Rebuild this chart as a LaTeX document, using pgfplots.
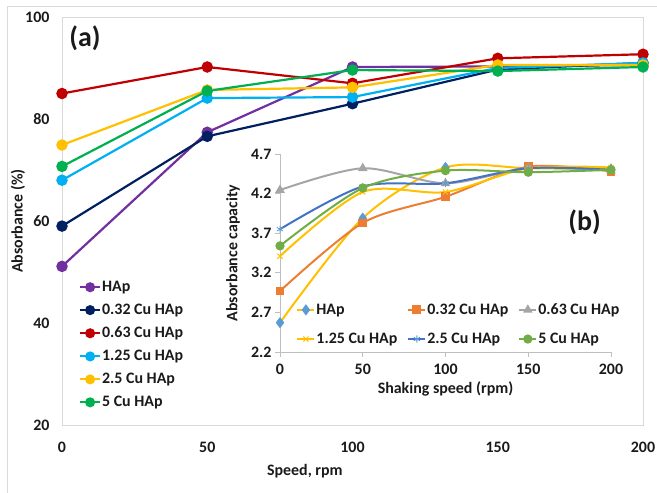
\documentclass[border=0pt]{standalone}
\usepackage{fontspec}
\setmainfont{Carlito}
\usepackage{pgfplots}
\pgfplotsset{compat=1.18}

% series colours of panel (a)
\definecolor{cHAp}{HTML}{7030A0}
\definecolor{cA}{HTML}{002060}
\definecolor{cB}{HTML}{C00000}
\definecolor{cC}{HTML}{00B0F0}
\definecolor{cD}{HTML}{FFC000}
\definecolor{cE}{HTML}{00B050}
% series colours of panel (b)
\definecolor{bBlueL}{HTML}{5B9BD5}
\definecolor{bOrange}{HTML}{ED7D31}
\definecolor{bGray}{HTML}{A5A5A5}
\definecolor{bYellow}{HTML}{FFC000}
\definecolor{bBlue}{HTML}{4472C4}
\definecolor{bGreen}{HTML}{70AD47}
\definecolor{framegray}{HTML}{D9D9D9}
\definecolor{axisgray}{HTML}{BFBFBF}
\definecolor{txt}{HTML}{1A1A1A}

\newcommand{\lblfont}{\bfseries\fontsize{16}{19}\selectfont}

\pgfplotsset{
  /pgf/number format/assume math mode=true,
  every axis/.append style={
    tick label style={font=\lblfont, text=txt},
    label style={font=\lblfont, text=txt},
    legend style={font=\lblfont, text=txt},
  },
}

\begin{document}
\begin{tikzpicture}

% ---------------- panel (a): absorbance vs speed ----------------
\begin{axis}[
  at={(62bp,68bp)}, anchor=south west,
  scale only axis, width=581bp, height=408bp,
  xmin=0, xmax=200, ymin=20, ymax=100,
  xtick={0,50,100,150,200}, ytick={20,40,60,80,100},
  major tick length=0pt,
  axis line style={draw=framegray, line width=0.8bp},
  yticklabel style={xshift=-9bp},
  xticklabel style={yshift=-14bp},
  xlabel={Speed, rpm},
  ylabel={Absorbance (\%)},
  xlabel style={at={(rel axis cs:0.418,-0.112)}, anchor=center},
  ylabel style={at={(rel axis cs:-0.0757,0.5)}, anchor=center},
  every axis plot/.append style={line width=2.2bp, mark=*, mark size=4.6bp},
  legend image code/.code={\draw[mark repeat=2,mark phase=2,#1,line width=2bp,mark size=4bp]
     plot coordinates {(0bp,0bp) (10bp,0bp) (20bp,0bp)};},
  legend cell align=left,
  legend style={at={(rel axis cs:0.024,0.36)}, anchor=north west,
    draw=none, fill=none, row sep=9bp,
    nodes={inner sep=1bp, inner xsep=1bp}},
]
\addplot[color=cHAp, mark options={fill=cHAp}] coordinates {(0,51.1) (50,77.4) (100,90.2) (150,90.3) (200,90.6)};
\addlegendentry{HAp}
\addplot[color=cA, mark options={fill=cA}] coordinates {(0,59.0) (50,76.6) (100,83.0) (150,89.7) (200,91.0)};
\addlegendentry{0.32 Cu HAp}
\addplot[color=cB, mark options={fill=cB}] coordinates {(0,85.0) (50,90.2) (100,87.0) (150,91.9) (200,92.7)};
\addlegendentry{0.63 Cu HAp}
\addplot[color=cC, mark options={fill=cC}] coordinates {(0,68.0) (50,84.1) (100,84.3) (150,90.0) (200,91.0)};
\addlegendentry{1.25 Cu HAp}
\addplot[color=cD, mark options={fill=cD}] coordinates {(0,74.9) (50,85.7) (100,86.2) (150,90.6) (200,90.6)};
\addlegendentry{2.5 Cu HAp}
\addplot[color=cE, mark options={fill=cE}] coordinates {(0,70.7) (50,85.5) (100,89.6) (150,89.4) (200,90.2)};
\addlegendentry{5 Cu HAp}
\node[font=\bfseries\fontsize{28}{32}\selectfont, text=txt] at (rel axis cs:0.0396,0.9485) {(a)};
\end{axis}

% ---------------- panel (b): absorbance capacity vs shaking speed ----------------
\begin{axis}[
  at={(280bp,141bp)}, anchor=south west,
  scale only axis, width=331bp, height=198bp,
  xmin=0, xmax=200, ymin=2.2, ymax=4.7,
  xtick={0,50,100,150,200}, ytick={2.2,2.7,3.2,3.7,4.2,4.7},
  yticklabel style={/pgf/number format/.cd, fixed, fixed zerofill, precision=1},
  xticklabel style={yshift=-4bp},
  axis lines=left, axis line style={-, draw=axisgray, line width=0.8bp},
  tick align=outside, major tick length=5bp, tick style={draw=axisgray, line width=0.8bp},
  xlabel={Shaking speed (rpm)},
  ylabel={Absorbance capacity},
  xlabel style={at={(rel axis cs:0.5,-0.185)}, anchor=center},
  ylabel style={at={(rel axis cs:-0.142,0.5)}, anchor=center},
  clip=false,
  every axis plot/.append style={line width=2bp, smooth, tension=0.5, mark size=3.6bp},
  legend image code/.code={\draw[mark repeat=2,mark phase=2,#1]
     plot coordinates {(0bp,0bp) (8.5bp,0bp) (17bp,0bp)};},
  legend columns=3,
  legend cell align=left,
  legend style={at={(rel axis cs:0.04,0.26)}, anchor=north west,
    draw=none, fill=none, row sep=15bp,
    nodes={inner sep=1bp, inner xsep=1bp},
    /tikz/every even column/.append style={column sep=9bp}},
]
\addplot[color=bYellow, mark=diamond*, mark options={draw=bBlueL, fill=bBlueL, mark size=4bp}] coordinates {(0,2.57) (50,3.89) (100,4.53) (150,4.52) (200,4.51)};
\addlegendentry{HAp}
\addplot[color=bOrange, mark=square*, mark options={fill=bOrange, mark size=3.4bp}] coordinates {(0,2.97) (50,3.83) (100,4.16) (150,4.54) (200,4.48)};
\addlegendentry{0.32 Cu HAp}
\addplot[color=bGray, mark=triangle*, mark options={fill=bGray}] coordinates {(0,4.245) (50,4.52) (100,4.33) (150,4.52) (200,4.49)};
\addlegendentry{0.63 Cu HAp}
\addplot[color=bYellow, mark=x, mark options={line width=1bp}] coordinates {(0,3.41) (50,4.22) (100,4.22) (150,4.52) (200,4.53)};
\addlegendentry{1.25 Cu HAp}
\addplot[color=bBlue, mark=asterisk, mark options={line width=0.8bp, draw=bBlueL}] coordinates {(0,3.75) (50,4.29) (100,4.33) (150,4.52) (200,4.50)};
\addlegendentry{2.5 Cu HAp}
\addplot[color=bGreen, mark=*, mark options={fill=bGreen}] coordinates {(0,3.54) (50,4.27) (100,4.49) (150,4.47) (200,4.50)};
\addlegendentry{5 Cu HAp}
\node[font=\bfseries\fontsize{28}{32}\selectfont, text=txt] at (rel axis cs:0.92,0.657) {(b)};
\end{axis}

% outer chart frame and fixed page size
\draw[framegray, line width=0.8bp] (7bp,0bp) -- (7bp,487bp) -- (657bp,487bp);
\pgfresetboundingbox
\path (0bp,0bp) rectangle (657bp,493bp);
\end{tikzpicture}
\end{document}
